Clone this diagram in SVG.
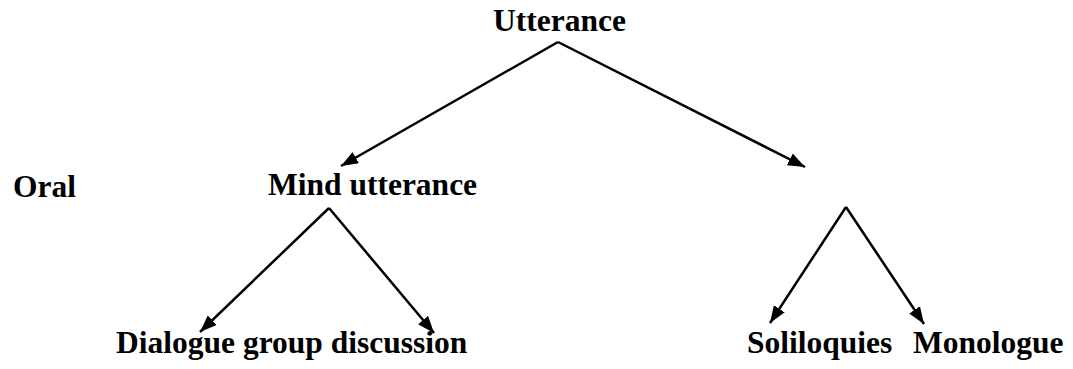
<svg xmlns="http://www.w3.org/2000/svg" width="1073" height="369" viewBox="0 0 1073 369">
  <style>
    .lbl { font-family: "Liberation Serif", "Times New Roman", serif; font-weight: bold; font-size: 31.5px; fill: #000; }
    .edge { stroke: #000; stroke-width: 2.5; fill: none; }
  </style>
  <defs>
    <marker id="arrow" markerUnits="userSpaceOnUse" markerWidth="20" markerHeight="14" refX="17" refY="6.5" orient="auto">
      <path d="M0,0 L17,6.5 L0,13 Z" fill="#000"/>
    </marker>
  </defs>
  <rect width="1073" height="369" fill="#fff"/>
  <g id="connectors">
    <line class="edge" x1="558" y1="42" x2="341" y2="166" marker-end="url(#arrow)"/>
    <line class="edge" x1="558" y1="42" x2="805" y2="167" marker-end="url(#arrow)"/>
    <line class="edge" x1="329" y1="208" x2="200" y2="332" marker-end="url(#arrow)"/>
    <line class="edge" x1="329" y1="208" x2="434" y2="333" marker-end="url(#arrow)"/>
    <line class="edge" x1="846" y1="207" x2="770" y2="323" marker-end="url(#arrow)"/>
    <line class="edge" x1="846" y1="207" x2="924" y2="324" marker-end="url(#arrow)"/>
  </g>
  <g id="utterance"><text class="lbl" x="493" y="31">Utterance</text></g>
  <g id="oral"><text class="lbl" x="13" y="197">Oral</text></g>
  <g id="mind-utterance"><text class="lbl" x="268" y="195">Mind utterance</text></g>
  <g id="dialogue"><text class="lbl" x="116" y="353">Dialogue group discussion</text></g>
  <g id="soliloquies"><text class="lbl" x="747" y="353">Soliloquies</text></g>
  <g id="monologue"><text class="lbl" x="913" y="353">Monologue</text></g>
</svg>
